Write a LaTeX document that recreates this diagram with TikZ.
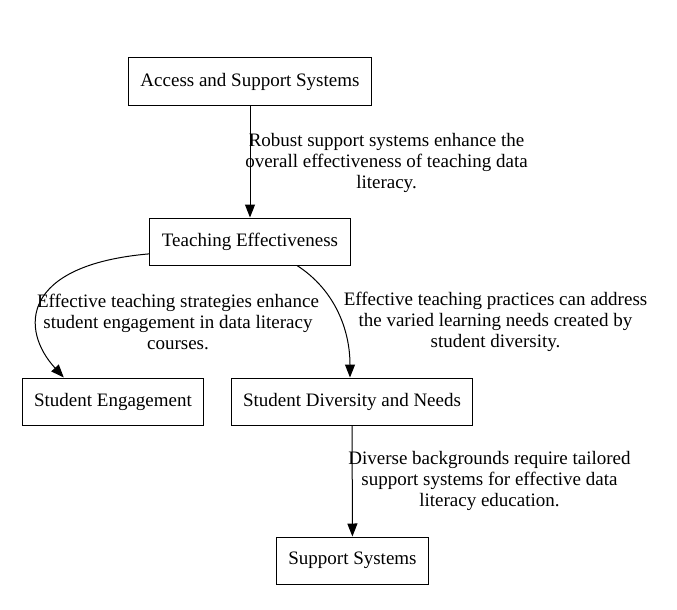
\documentclass[tikz,border=0pt]{standalone}
\usepackage{fontspec}
\setmainfont{Liberation Serif}
\usetikzlibrary{arrows.meta,positioning}
\tikzset{
  box/.style={draw,line width=1pt,minimum height=47pt,inner xsep=12pt,
              font=\fontsize{19}{21}\selectfont},
  lbl/.style={align=center,inner sep=0pt,font=\fontsize{19}{21}\selectfont},
  edge/.style={line width=1pt,-{Triangle[length=13pt,width=10pt]}}
}
\begin{document}
\begin{tikzpicture}[x=1pt,y=-1pt]
  \useasboundingbox (0,0) rectangle (677,610);
  % boxes
  \node[box] (as) at (250,81.5) {Access and Support Systems};
  \node[box] (te) at (250,241.5) {Teaching Effectiveness};
  \node[box] (se) at (113,401.5) {Student Engagement};
  \node[box] (sd) at (352,401.5) {Student Diversity and Needs};
  \node[box] (ss) at (352.5,560.5) {Support Systems};
  % edge labels
  \node[lbl] (l1) at (386.5,163) {Robust support systems enhance the\\overall effectiveness of teaching data\\literacy.};
  \node[lbl] (l2) at (178,322) {Effective teaching strategies enhance\\student engagement in data literacy\\courses.};
  \node[lbl] (l3) at (495.5,322) {Effective teaching practices can address\\the varied learning needs created by\\student diversity.};
  \node[lbl] (l4) at (489.5,481) {Diverse backgrounds require tailored\\support systems for effective data\\literacy education.};
  % connectors
  \draw[edge] (as) -- (te);
  \draw[edge] (te.187) .. controls (20,265) and (20,330) .. (se.154);
  \draw[edge] ([xshift=47pt]te.south) .. controls (335,290) and (350,330) .. ([xshift=-2pt]sd.north);
  \draw[edge] (sd) -- (ss);
\end{tikzpicture}
\end{document}
